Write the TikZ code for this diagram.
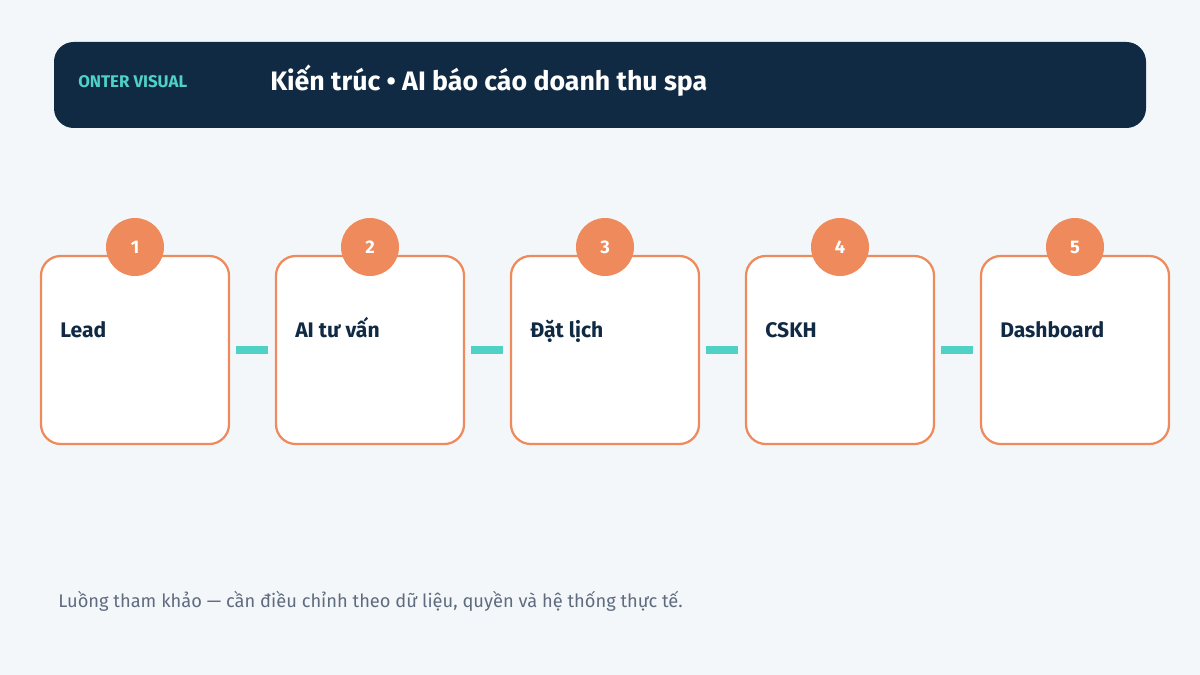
\documentclass[tikz,border=0pt]{standalone}
\usepackage{fontspec}
\setmainfont{Fira Sans}
\usetikzlibrary{positioning}
\definecolor{bgc}{HTML}{F4F7FA}
\definecolor{navy}{HTML}{102A43}
\definecolor{teal}{HTML}{4FD1C5}
\definecolor{orng}{HTML}{EE8A5B}
\definecolor{foot}{HTML}{5F6B7E}
\begin{document}
\begin{tikzpicture}[x=0.025cm,y=-0.025cm,
    stage/.style={draw=orng,line width=1.6pt,fill=white,rounded corners=14pt,
        minimum width=188*0.025cm,minimum height=188*0.025cm,inner sep=0pt},
    badge/.style={circle,fill=orng,minimum size=58*0.025cm,inner sep=0pt,
        text=white,font=\bfseries\fontsize{13}{15}\selectfont},
    title/.style={anchor=base west,inner sep=0pt,text=navy,font=\bfseries\fontsize{15}{18}\selectfont},
    link/.style={teal,line width=5pt}]
    \fill[bgc] (0,0) rectangle (1200,675);
    \node[fill=navy,rounded corners=14pt,minimum width=1092*0.025cm,
        minimum height=86*0.025cm] (header) at (600,85) {};
    \node[anchor=base west,inner sep=0pt,text=teal,font=\bfseries\fontsize{12}{14}\selectfont] (brand)
        at (78,88) {ONTER VISUAL};
    \node[anchor=base west,inner sep=0pt,text=white,font=\bfseries\fontsize{19}{22}\selectfont] (heading)
        at (270,91) {Kiến trúc • AI báo cáo doanh thu spa};
    \foreach \i/\txt in {1/Lead,2/AI tư vấn,3/Đặt lịch,4/CSKH,5/Dashboard}{
        \node[stage] (box\i) at (135+235*\i-235,350) {};
        \node[badge] (num\i) at (135+235*\i-235,247) {\i};
        \node[title] (lbl\i) at (60+235*\i-235,337) {\txt};
    }
    \foreach \i [count=\j from 2] in {1,...,4}
        \draw[link] ([xshift=6*0.025cm]box\i.east) -- ([xshift=-7*0.025cm]box\j.west);
    \node[anchor=base west,inner sep=0pt,text=foot,font=\fontsize{13}{15}\selectfont] (note) at (58,607)
        {Luồng tham khảo — cần điều chỉnh theo dữ liệu, quyền và hệ thống thực tế.};
\end{tikzpicture}
\end{document}
